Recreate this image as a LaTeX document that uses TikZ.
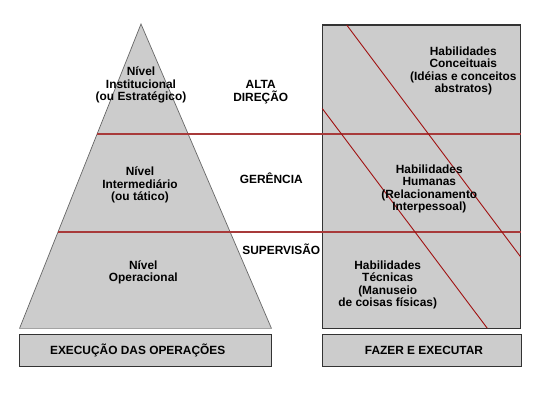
\documentclass[tikz,border=0pt]{standalone}
\usepackage{fontspec}
\setmainfont{Liberation Sans}
\definecolor{boxgray}{HTML}{CCCCCC}
\definecolor{edgegray}{HTML}{333333}
\definecolor{trigray}{HTML}{666666}
\definecolor{redline}{HTML}{A83A3A}
\definecolor{diagred}{HTML}{A01010}
\begin{document}
\begin{tikzpicture}[x=1pt,y=-1pt,
  lbl/.style={font=\fontsize{11.9}{12.3}\selectfont\bfseries, align=center, inner sep=0pt},
  panel/.style={fill=boxgray, draw=edgegray, line width=1.1pt},
  hline/.style={draw=redline, line width=1.6pt},
  dline/.style={draw=diagred, line width=0.9pt}]
\useasboundingbox (0,0) rectangle (550,400);
% pyramid
\coordinate (apex) at (141,24);
\coordinate (bl) at (19.5,328.5);
\coordinate (br) at (271.5,328.5);
\fill[boxgray] (apex) -- (br) -- (bl) -- cycle;
\draw[trigray, line width=0.7pt] (bl) -- (apex) -- (br);
\draw[boxgray!80!black, line width=0.9pt] (bl) -- (br);
% right panel
\draw[panel] (322.3,25) rectangle (520.7,328.3);
% bottom boxes
\node[panel, minimum width=252pt, minimum height=31.7pt, inner sep=0pt] (exec) at (145.5,350.2) {};
\node[panel, minimum width=199pt, minimum height=31.7pt, inner sep=0pt] (fazer) at (421.8,350.2) {};
% horizontal red lines
\coordinate (h1a) at (97.1,134);
\coordinate (h1b) at (520.7,134);
\coordinate (h2a) at (58.1,231.7);
\coordinate (h2b) at (520.7,231.7);
\draw[hline] (h1a) -- (h1b);
\draw[hline] (h2a) -- (h2b);
% diagonals
\coordinate (d1a) at (346.7,25);
\coordinate (d1b) at (520.7,257);
\coordinate (d2a) at (322.3,108.5);
\coordinate (d2b) at (487.3,328.3);
\draw[dline] (d1a) -- (d1b);
\draw[dline] (d2a) -- (d2b);
% texts
\node[lbl] (inst) at (141,85) {Nível\\Institucional\\(ou Estratégico)};
\node[lbl] (inter) at (140,185) {Nível\\Intermediário\\(ou tático)};
\node[lbl] (oper) at (143.3,272.7) {Nível\\Operacional};
\node[lbl] (alta) at (260.7,92) {ALTA\\DIREÇÃO};
\node[lbl] (ger) at (271.3,178.3) {GERÊNCIA};
\node[lbl] (sup) at (281.3,249) {SUPERVISÃO};
\node[lbl] (conc) at (463.3,70.8) {Habilidades\\Conceituais\\(Idéias e conceitos\\abstratos)};
\node[lbl] (hum) at (429.3,189) {Habilidades\\Humanas\\(Relacionamento\\Interpessoal)};
\node[lbl] (tec) at (387.7,285) {Habilidades\\Técnicas\\(Manuseio\\de coisas físicas)};
\node[lbl] at (exec.center) [xshift=-7.8pt] {EXECUÇÃO DAS OPERAÇÕES};
\node[lbl] at (fazer.center) [xshift=2.2pt] {FAZER E EXECUTAR};
\end{tikzpicture}
\end{document}
